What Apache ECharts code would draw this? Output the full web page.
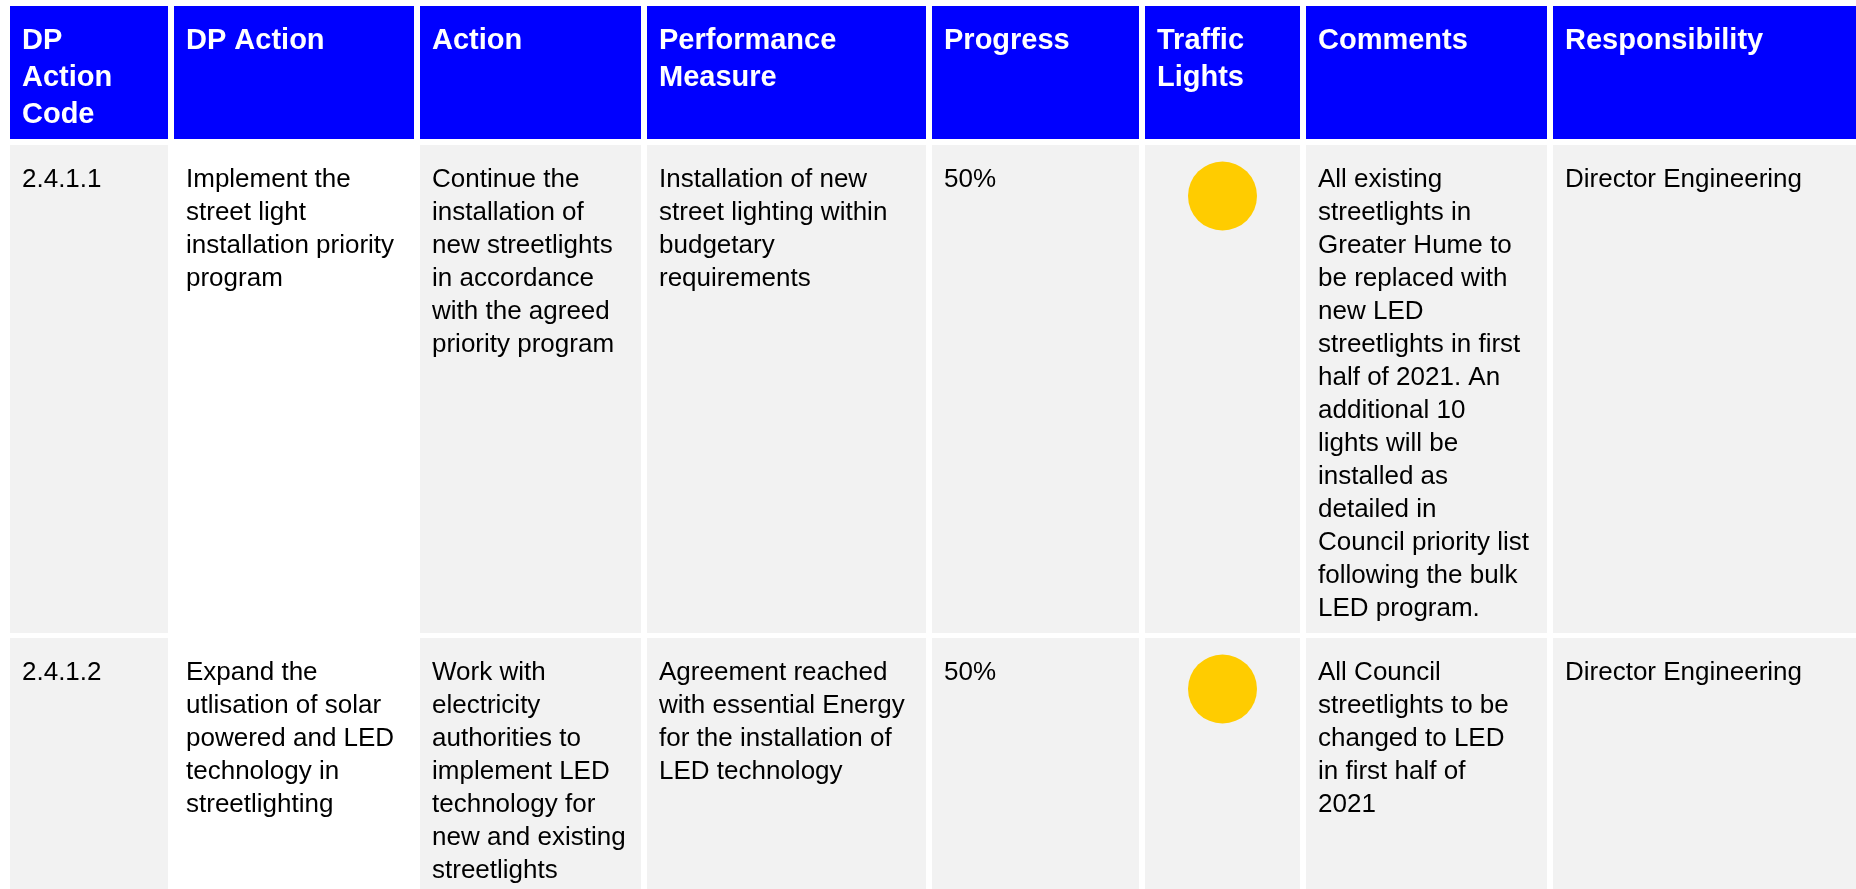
<!DOCTYPE html>
<html>
<head>
<meta charset="utf-8">
<script src="https://cdn.jsdelivr.net/npm/echarts@6/dist/echarts.min.js"></script>
<style>
html,body{margin:0;padding:0;background:#fff;}
#chart{width:1856px;height:889px;}
</style>
</head>
<body>
<div id="chart"></div>
<script>
// ---- data ----
const headers = [
  "DP\nAction\nCode",
  "DP Action",
  "Action",
  "Performance\nMeasure",
  "Progress",
  "Traffic\nLights",
  "Comments",
  "Responsibility"
];
const codes = ["2.4.1.1", "2.4.1.2"];
const dpActions = [
  "Implement the\nstreet light\ninstallation priority\nprogram",
  "Expand the\nutlisation of solar\npowered and LED\ntechnology in\nstreetlighting"
];
const actions = [
  "Continue the\ninstallation of\nnew streetlights\nin accordance\nwith the agreed\npriority program",
  "Work with\nelectricity\nauthorities to\nimplement LED\ntechnology for\nnew and existing\nstreetlights"
];
const measures = [
  "Installation of new\nstreet lighting within\nbudgetary\nrequirements",
  "Agreement reached\nwith essential Energy\nfor the installation of\nLED technology"
];
const progress = ["50%", "50%"];
const trafficLights = ["amber", "amber"];
const comments = [
  "All existing\nstreetlights in\nGreater Hume to\nbe replaced with\nnew LED\nstreetlights in first\nhalf of 2021. An\nadditional 10\nlights will be\ninstalled as\ndetailed in\nCouncil priority list\nfollowing the bulk\nLED program.",
  "All Council\nstreetlights to be\nchanged to LED\nin first half of\n2021"
];
const responsibility = ["Director Engineering", "Director Engineering"];

// ---- layout (table geometry in axis units) ----
const colLeft  = [10, 174, 420, 647, 932, 1145, 1306, 1553];
const colRight = [168, 414, 641, 926, 1139, 1300, 1547, 1856];
const rowTop    = [6, 145, 638];
const rowBottom = [139, 633, 889];

const BLUE = '#0000FF', GREY = '#F2F2F2', AMBER = '#FFCC00';
const lightColors = {amber: AMBER, red: '#FF0000', green: '#00B050'};
const FONT = '"Liberation Sans", Arial, sans-serif';

// build cell table
const bodyCols = [codes, dpActions, actions, measures, progress, trafficLights, comments, responsibility];
const cellText = [headers];
for (let r = 0; r < codes.length; r++) {
  cellText.push(bodyCols.map(c => c[r]));
}
const cells = [];
for (let r = 0; r < cellText.length; r++) {
  for (let c = 0; c < headers.length; c++) cells.push([c, r]);
}

function renderItem(params, api) {
  const ci = api.value(0), ri = api.value(1);
  const p0 = api.coord([colLeft[ci], rowTop[ri]]);
  const p1 = api.coord([colRight[ci], rowBottom[ri]]);
  const isHead = ri === 0;
  const fill = isHead ? BLUE : (ci === 1 ? '#FFFFFF' : GREY);
  const children = [{
    type: 'rect',
    shape: {x: p0[0], y: p0[1], width: p1[0] - p0[0], height: p1[1] - p0[1]},
    style: {fill: fill}
  }];
  const txt = cellText[ri][ci];
  if (!isHead && ci === 5) {
    children.push({
      type: 'circle',
      shape: {cx: (p0[0] + p1[0]) / 2, cy: p0[1] + 51, r: 34.5},
      style: {fill: lightColors[txt] || AMBER}
    });
  } else {
    children.push({
      type: 'text',
      style: {
        text: txt,
        x: p0[0] + 12,
        y: p0[1] + (isHead ? 16.5 : 18),
        fill: isHead ? '#FFFFFF' : '#000000',
        fontFamily: FONT,
        fontSize: isHead ? 29 : 26,
        fontWeight: isHead ? 'bold' : 'normal',
        lineHeight: isHead ? 37 : 33,
        align: 'left',
        verticalAlign: 'top'
      }
    });
  }
  return {type: 'group', children: children};
}

const chart = echarts.init(document.getElementById('chart'));
chart.setOption({
  animation: false,
  grid: {left: 0, right: 0, top: 0, bottom: 0},
  xAxis: {type: 'value', min: 0, max: 1856, show: false},
  yAxis: {type: 'value', min: 0, max: 889, inverse: true, show: false},
  series: [{
    type: 'custom',
    renderItem: renderItem,
    data: cells,
    clip: false
  }]
});
</script>
</body>
</html>
